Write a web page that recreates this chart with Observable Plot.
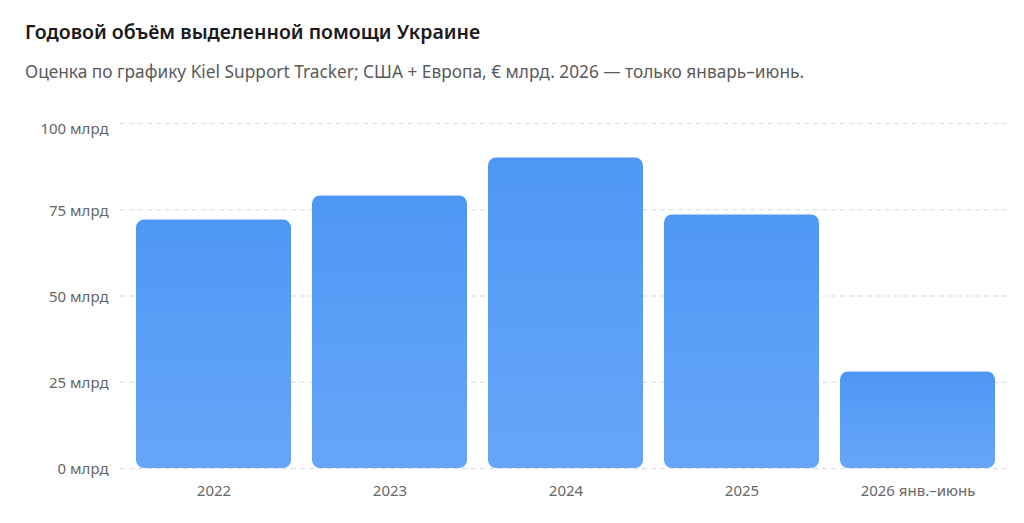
<!DOCTYPE html>
<html>
<head>
<meta charset="utf-8">
<script src="https://cdn.jsdelivr.net/npm/d3@7"></script>
<script src="https://cdn.jsdelivr.net/npm/@observablehq/plot@0.6"></script>
<style>
  html, body { margin: 0; padding: 0; background: #ffffff; }
  body { width: 1024px; height: 523px; overflow: hidden; font-family: "Noto Sans", "Open Sans", sans-serif; }
  #header { position: relative; height: 100px; }
  #title { position: absolute; left: 25px; top: 18px; font-size: 19.5px; font-weight: 600; color: #1a1a1a; white-space: nowrap; }
  #subtitle { position: absolute; left: 25px; top: 60px; font-size: 17.3px; color: #5a5a5a; white-space: nowrap; }
  #chart svg { display: block; }
</style>
</head>
<body>
<div id="header">
  <div id="title">Годовой объём выделенной помощи Украине</div>
  <div id="subtitle">Оценка по графику Kiel Support Tracker; США + Европа, € млрд. 2026 — только январь–июнь.</div>
</div>
<div id="chart"></div>
<script>
const categories = ["2022", "2023", "2024", "2025", "2026 янв.–июнь"];
const values = [72, 79, 90, 73.5, 28];
const yTicks = [0, 25, 50, 75];
const yTopTick = [100];
const tickLabel = d => `${d} млрд`;

const data = categories.map((c, i) => ({ year: c, value: values[i] }));

const chart = Plot.plot({
  width: 1024,
  height: 423,
  marginTop: 23,
  marginBottom: 55,
  marginLeft: 120,
  marginRight: 14,
  style: { fontFamily: '"Noto Sans", "Open Sans", sans-serif', fontSize: "15px", color: "#666", background: "transparent" },
  x: { domain: categories, paddingInner: 0.12, paddingOuter: 0.08, label: null },
  y: { domain: [0, 100], label: null },
  marks: [
    Plot.gridY([...yTicks, ...yTopTick], { stroke: "#d9d9d9", strokeOpacity: 1, strokeDasharray: "5,4" }),
    Plot.barY(data, { x: "year", y: "value", fill: "url(#barGrad)", rx: 8, ry: 8 }),
    Plot.axisY(yTicks, { tickSize: 0, tickPadding: 12, tickFormat: tickLabel, fill: "#666", fontSize: 15, label: null, dy: 1 }),
    Plot.axisY(yTopTick, { tickSize: 0, tickPadding: 12, tickFormat: tickLabel, fill: "#666", fontSize: 15, label: null, dy: 6 }),
    Plot.axisX({ tickSize: 0, tickPadding: 17, fill: "#666", fontSize: 15, label: null })
  ]
});

const ns = "http://www.w3.org/2000/svg";
const defs = document.createElementNS(ns, "defs");
const grad = document.createElementNS(ns, "linearGradient");
grad.setAttribute("id", "barGrad");
grad.setAttribute("x1", "0"); grad.setAttribute("y1", "0");
grad.setAttribute("x2", "0"); grad.setAttribute("y2", "1");
[["0%", "#4f97f5"], ["100%", "#66a6f8"]].forEach(([o, c]) => {
  const s = document.createElementNS(ns, "stop");
  s.setAttribute("offset", o); s.setAttribute("stop-color", c);
  grad.appendChild(s);
});
defs.appendChild(grad);
chart.insertBefore(defs, chart.firstChild);
const barGroup = chart.querySelector('g[aria-label="bar"]');
if (barGroup) barGroup.setAttribute("fill", "url(#barGrad)");
document.getElementById("chart").appendChild(chart);
</script>
</body>
</html>
